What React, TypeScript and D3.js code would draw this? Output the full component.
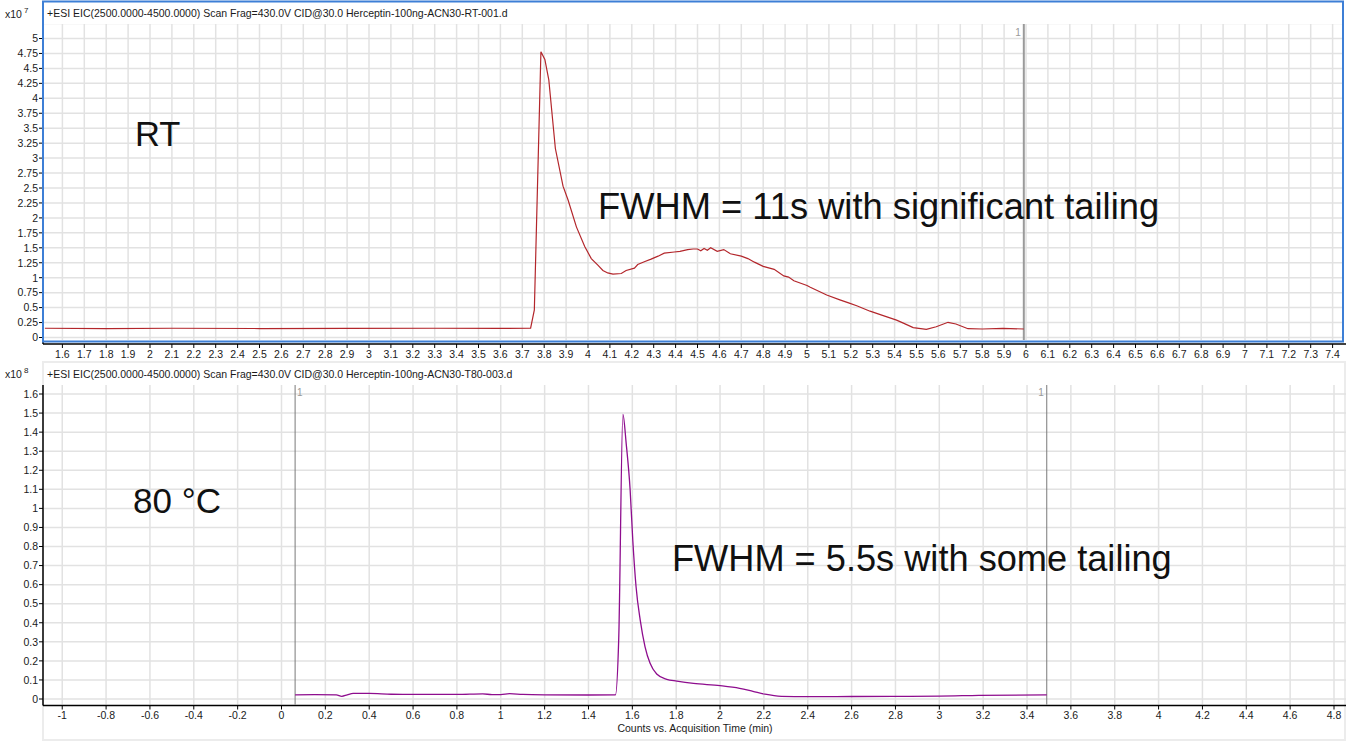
import React from "react";
import * as d3 from "d3";

// ---------- Data ----------
const topTitle = "+ESI EIC(2500.0000-4500.0000) Scan Frag=430.0V CID@30.0 Herceptin-100ng-ACN30-RT-001.d";
const bottomTitle = "+ESI EIC(2500.0000-4500.0000) Scan Frag=430.0V CID@30.0 Herceptin-100ng-ACN30-T80-003.d";
const xAxisTitle = "Counts vs. Acquisition Time (min)";

// RT trace (counts x10^7)
const rtTime = [1.52, 1.8, 2.1, 2.5, 2.9, 3.3, 3.6, 3.738, 3.755, 3.785, 3.803, 3.821, 3.851, 3.886, 3.909, 3.947, 3.985, 4.015, 4.045, 4.068, 4.09, 4.114, 4.152, 4.174, 4.212, 4.227, 4.26, 4.288, 4.32, 4.348, 4.394, 4.42, 4.455, 4.48, 4.5, 4.515, 4.53, 4.545, 4.56, 4.59, 4.62, 4.65, 4.7, 4.73, 4.76, 4.8, 4.85, 4.894, 4.916, 4.94, 5.0, 5.015, 5.09, 5.15, 5.19, 5.227, 5.288, 5.348, 5.409, 5.44, 5.485, 5.545, 5.59, 5.644, 5.68, 5.735, 5.8, 5.894, 5.99];
const rtCounts = [0.155, 0.15, 0.155, 0.15, 0.152, 0.155, 0.152, 0.155, 0.46, 4.78, 4.65, 4.31, 3.16, 2.53, 2.3, 1.85, 1.52, 1.32, 1.21, 1.12, 1.08, 1.06, 1.07, 1.12, 1.16, 1.22, 1.27, 1.31, 1.36, 1.41, 1.43, 1.44, 1.47, 1.48, 1.48, 1.45, 1.49, 1.46, 1.5, 1.44, 1.47, 1.4, 1.36, 1.32, 1.26, 1.19, 1.14, 1.03, 1.01, 0.95, 0.87, 0.84, 0.71, 0.63, 0.58, 0.53, 0.44, 0.365, 0.29, 0.24, 0.165, 0.137, 0.18, 0.254, 0.226, 0.147, 0.142, 0.154, 0.142];

// 80 °C trace (counts x10^8)
const t80Time = [0.062, 0.15, 0.25, 0.275, 0.3, 0.327, 0.4, 0.5, 0.6, 0.8, 0.918, 0.96, 1.0, 1.04, 1.1, 1.2, 1.4, 1.523, 1.538, 1.557, 1.572, 1.59, 1.602, 1.617, 1.636, 1.658, 1.681, 1.711, 1.757, 1.803, 1.879, 2.0, 2.089, 2.15, 2.205, 2.28, 2.4, 2.6, 2.79, 3.0, 3.18, 3.49];
const t80Counts = [0.022, 0.023, 0.022, 0.014, 0.022, 0.029, 0.029, 0.025, 0.024, 0.024, 0.027, 0.023, 0.023, 0.028, 0.024, 0.022, 0.021, 0.022, 0.318, 1.493, 1.34, 1.096, 0.834, 0.589, 0.414, 0.274, 0.187, 0.131, 0.103, 0.094, 0.082, 0.07, 0.056, 0.04, 0.025, 0.014, 0.012, 0.013, 0.014, 0.015, 0.019, 0.022];

// markers
const topMarkers = [5.99];
const bottomMarkers = [0.062, 3.49];

// ticks
const topXTicks = d3.range(16, 75).map((i) => i / 10);
const topYTicks = d3.range(0, 21).map((i) => i / 4);
const bottomXTicks = d3.range(-5, 25).map((i) => i / 5);
const bottomYTicks = d3.range(0, 17).map((i) => i / 10);

const FONT = "'Liberation Sans', Arial, Helvetica, sans-serif";

export default function App() {
  const W = 1346;
  const H = 742;

  // Top panel geometry
  const tLeft = 43, tRight = 1344, tTop = 24, tPlotBottom = 340, tAxisY = 344;
  const xTop = d3.scaleLinear().domain([2, 7]).range([150, 1245]);
  const yTop = d3.scaleLinear().domain([0, 5]).range([337.5, 38.5]);

  // Bottom panel geometry
  const bLeft = 43, bTop = 385, bAxisY = 705.5;
  const xBot = d3.scaleLinear().domain([0, 4.8]).range([281.5, 1334]);
  const yBot = d3.scaleLinear().domain([0, 1.6]).range([699, 394]);

  const rtData = rtTime.map((t, i) => [t, rtCounts[i]] as [number, number]);
  const t80Data = t80Time.map((t, i) => [t, t80Counts[i]] as [number, number]);

  const lineTop = d3.line<[number, number]>().x((d) => xTop(d[0])).y((d) => yTop(d[1]));
  const lineBot = d3
    .line<[number, number]>()
    .x((d) => xBot(d[0]))
    .y((d) => yBot(d[1]))
    .curve(d3.curveMonotoneX);

  const gridColor = "#e2e2e2";
  const fmt = (v: number) => String(Math.round(v * 100) / 100);

  return (
    <svg
      width={W}
      height={H}
      style={{ position: "absolute", left: 0, top: 0, background: "#fff" }}
      fontFamily={FONT}
    >
      <rect x={0} y={0} width={W} height={H} fill="#fff" />
      <defs>
        <clipPath id="clipTop">
          <rect x={tLeft + 1} y={tTop} width={tRight - tLeft - 1} height={tPlotBottom - tTop} />
        </clipPath>
        <clipPath id="clipBot">
          <rect x={bLeft + 1} y={bTop} width={W - bLeft} height={bAxisY - bTop - 1} />
        </clipPath>
      </defs>

      {/* ================= TOP PANEL ================= */}
      <g clipPath="url(#clipTop)">
        {topXTicks.map((t) => (
          <line key={"tgx" + t} x1={xTop(t)} x2={xTop(t)} y1={tTop} y2={tPlotBottom} stroke={gridColor} strokeWidth={1.5} />
        ))}
        {[...topYTicks, 5.25].map((v) => (
          <line key={"tgy" + v} x1={tLeft} x2={tRight} y1={yTop(v)} y2={yTop(v)} stroke={gridColor} strokeWidth={1.5} />
        ))}
        {topMarkers.map((m) => (
          <line key={"tm" + m} x1={xTop(m)} x2={xTop(m)} y1={tTop} y2={tPlotBottom} stroke="#9a9a9a" strokeWidth={2} />
        ))}
        <path d={lineTop(rtData) || ""} fill="none" stroke="#b3262b" strokeWidth={1.2} />
      </g>
      {topMarkers.map((m) => (
        <text key={"tml" + m} x={xTop(m) - 3} y={36} fontSize={10} fill="#999" textAnchor="end">1</text>
      ))}

      {/* top annotations */}
      <text x={135} y={146} fontSize={34.5} fill="#111">RT</text>
      <text x={598} y={219} fontSize={36.3} fill="#111">FWHM = 11s with significant tailing</text>

      {/* top y axis */}
      <line x1={tLeft} x2={tLeft} y1={tTop} y2={tAxisY} stroke="#000" strokeWidth={1.5} />
      {topYTicks.map((v) => (
        <g key={"tyt" + v}>
          <line x1={tLeft - 4} x2={tLeft} y1={yTop(v)} y2={yTop(v)} stroke="#000" />
          <text x={tLeft - 5} y={yTop(v) + 3.8} fontSize={10.5} textAnchor="end" fill="#1a1a1a">
            {fmt(v)}
          </text>
        </g>
      ))}
      {/* top x axis */}
      <line x1={tLeft} x2={W} y1={tAxisY} y2={tAxisY} stroke="#000" strokeWidth={1.5} />
      {topXTicks.map((t) => (
        <g key={"txt" + t}>
          <line x1={xTop(t)} x2={xTop(t)} y1={tAxisY} y2={tAxisY + 4} stroke="#000" />
          <text x={xTop(t)} y={358} fontSize={10.5} textAnchor="middle" fill="#1a1a1a">
            {fmt(t)}
          </text>
        </g>
      ))}

      {/* top title + multiplier */}
      <text x={5} y={18} fontSize={10.5} fill="#1a1a1a">
        x10
        <tspan dx={2} dy={-5} fontSize={8}>7</tspan>
      </text>
      <text x={47} y={17} fontSize={10.5} fill="#1a1a1a">{topTitle}</text>

      {/* selected panel frame (blue) */}
      <rect x={43} y={1.5} width={1300} height={340} fill="none" stroke="#3d7fd6" strokeWidth={2} />

      {/* ================= BOTTOM PANEL ================= */}
      <rect x={43} y={362} width={1302} height={378} fill="none" stroke="#ececec" strokeWidth={2} />
      <g clipPath="url(#clipBot)">
        {bottomXTicks.map((t) => (
          <line key={"bgx" + t} x1={xBot(t)} x2={xBot(t)} y1={bTop} y2={bAxisY} stroke={gridColor} strokeWidth={1.5} />
        ))}
        {bottomYTicks.map((v) => (
          <line key={"bgy" + v} x1={bLeft} x2={W} y1={yBot(v)} y2={yBot(v)} stroke={gridColor} strokeWidth={1.5} />
        ))}
        {bottomMarkers.map((m) => (
          <line key={"bm" + m} x1={xBot(m)} x2={xBot(m)} y1={bTop} y2={bAxisY} stroke="#7a7a7a" strokeWidth={1} />
        ))}
        <path d={lineBot(t80Data) || ""} fill="none" stroke="#8e0d8e" strokeWidth={1.3} />
      </g>
      <text x={xBot(bottomMarkers[0]) + 2} y={396} fontSize={10} fill="#999">1</text>
      <text x={xBot(bottomMarkers[1]) - 3} y={396} fontSize={10} fill="#999" textAnchor="end">1</text>

      {/* bottom annotations */}
      <text x={133} y={513} fontSize={35} fill="#111">80 °C</text>
      <text x={672} y={571} fontSize={36.2} fill="#111">FWHM = 5.5s with some tailing</text>

      {/* bottom y axis */}
      <line x1={bLeft} x2={bLeft} y1={bTop} y2={bAxisY} stroke="#000" strokeWidth={1.5} />
      {bottomYTicks.map((v) => (
        <g key={"byt" + v}>
          <line x1={bLeft - 4} x2={bLeft} y1={yBot(v)} y2={yBot(v)} stroke="#000" />
          <text x={bLeft - 5} y={yBot(v) + 3.8} fontSize={10.5} textAnchor="end" fill="#1a1a1a">
            {fmt(v)}
          </text>
        </g>
      ))}
      {/* bottom x axis */}
      <line x1={bLeft} x2={W} y1={bAxisY} y2={bAxisY} stroke="#000" strokeWidth={1.5} />
      {bottomXTicks.map((t) => (
        <g key={"bxt" + t}>
          <line x1={xBot(t)} x2={xBot(t)} y1={bAxisY} y2={bAxisY + 4} stroke="#000" />
          <text x={xBot(t)} y={719} fontSize={10.5} textAnchor="middle" fill="#1a1a1a">
            {fmt(t)}
          </text>
        </g>
      ))}
      <text x={695} y={732} fontSize={10.5} textAnchor="middle" fill="#1a1a1a">{xAxisTitle}</text>

      {/* bottom title + multiplier */}
      <text x={5} y={378} fontSize={10.5} fill="#1a1a1a">
        x10
        <tspan dx={2} dy={-5} fontSize={8}>8</tspan>
      </text>
      <text x={47} y={378} fontSize={10.5} fill="#1a1a1a">{bottomTitle}</text>
    </svg>
  );
}
